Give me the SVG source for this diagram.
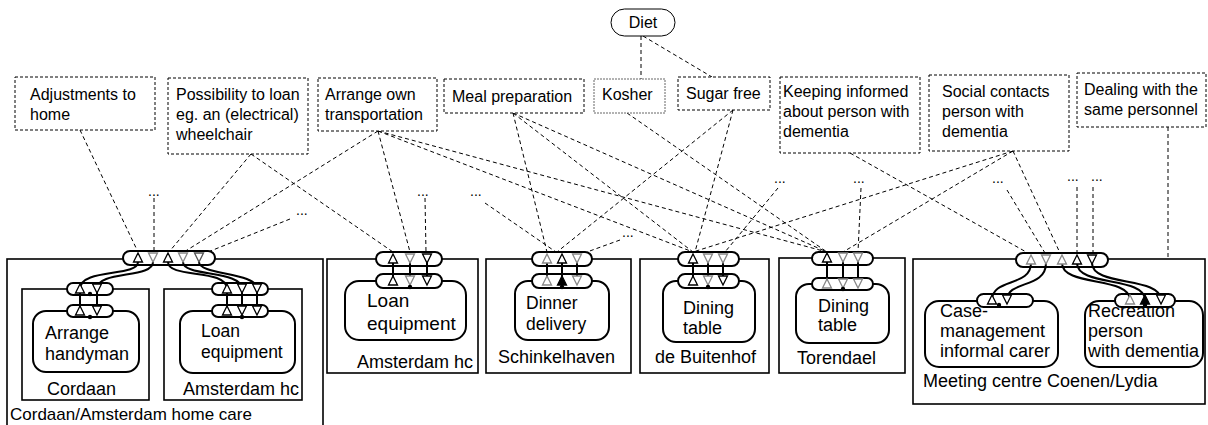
<svg xmlns="http://www.w3.org/2000/svg" xmlns:xlink="http://www.w3.org/1999/xlink" width="1208" height="425" viewBox="0 0 1208 425">
  <style>
    text { font-family: "Liberation Sans", Arial, sans-serif; fill: #000; }
    .req rect { fill: #fff; stroke: #000; stroke-width: 1; stroke-dasharray: 3 2; }
    .req text { font-size: 16px; }
    .dl { fill: none; stroke: #000; stroke-width: 1; stroke-dasharray: 4 3; }
    .dots { font-size: 14px; }
    .org { fill: none; stroke: #000; stroke-width: 1.6; }
    .svc { fill: #fff; stroke: #000; stroke-width: 2; }
    .pill { fill: #fff; stroke: #000; stroke-width: 2; }
    .lbl { font-size: 18px; }
    .wire { fill: none; stroke: #000; stroke-width: 2; }
    .k { fill: #fff; stroke: #000; stroke-width: 1.3; }
    .g { fill: #fff; stroke: #888; stroke-width: 1.3; }
    .kf { fill: #000; stroke: #000; stroke-width: 1.3; }
  </style>
  <defs>
    <path id="tu" d="M-4.5,4 L4.5,4 L0,-5 Z"/>
    <path id="td" d="M-4.5,-5 L4.5,-5 L0,4 Z"/>
  </defs>

  <!-- dashed relations between requirements and service interfaces -->
  <g id="connectors">
    <line class="dl" x1="641" y1="36" x2="641" y2="79"/>
    <line class="dl" x1="643" y1="36" x2="712" y2="77"/>
    <line class="dl" x1="80" y1="130" x2="138" y2="252"/>
    <line class="dl" x1="154" y1="198" x2="154" y2="252"/>
    <line class="dl" x1="251" y1="154" x2="169" y2="252"/>
    <line class="dl" x1="251" y1="154" x2="393" y2="252"/>
    <line class="dl" x1="378" y1="131" x2="184" y2="252"/>
    <line class="dl" x1="290" y1="219" x2="208" y2="252"/>
    <line class="dl" x1="378" y1="131" x2="410" y2="252"/>
    <line class="dl" x1="425" y1="198" x2="426" y2="252"/>
    <line class="dl" x1="485" y1="203" x2="556" y2="252"/>
    <line class="dl" x1="513" y1="113" x2="547" y2="252"/>
    <line class="dl" x1="733" y1="110" x2="557" y2="252"/>
    <line class="dl" x1="620" y1="240" x2="587" y2="252"/>
    <line class="dl" x1="378" y1="131" x2="693" y2="252"/>
    <line class="dl" x1="513" y1="113" x2="693" y2="252"/>
    <line class="dl" x1="733" y1="110" x2="695" y2="252"/>
    <line class="dl" x1="1013" y1="151" x2="693" y2="252"/>
    <line class="dl" x1="778" y1="188" x2="725" y2="252"/>
    <line class="dl" x1="378" y1="131" x2="827" y2="252"/>
    <line class="dl" x1="513" y1="113" x2="827" y2="252"/>
    <line class="dl" x1="627" y1="113" x2="827" y2="252"/>
    <line class="dl" x1="1013" y1="151" x2="843" y2="252"/>
    <line class="dl" x1="861" y1="188" x2="858" y2="252"/>
    <line class="dl" x1="850" y1="153" x2="1028" y2="253"/>
    <line class="dl" x1="1013" y1="151" x2="1060" y2="253"/>
    <line class="dl" x1="1007" y1="190" x2="1045" y2="253"/>
    <line class="dl" x1="1077" y1="187" x2="1077" y2="253"/>
    <line class="dl" x1="1093" y1="187" x2="1093" y2="253"/>
    <line class="dl" x1="1168" y1="127" x2="1168" y2="259"/>
    <text class="dots" x="148" y="196">...</text>
    <text class="dots" x="296" y="215">...</text>
    <text class="dots" x="417" y="196">...</text>
    <text class="dots" x="470" y="196">...</text>
    <text class="dots" x="622" y="237">...</text>
    <text class="dots" x="774" y="183">...</text>
    <text class="dots" x="853" y="183">...</text>
    <text class="dots" x="992" y="183">...</text>
    <text class="dots" x="1067" y="181">...</text>
    <text class="dots" x="1091" y="181">...</text>
  </g>

  <!-- requirement boxes -->
  <g id="diet">
    <rect x="611" y="9" width="64" height="27" rx="13.5" fill="#fff" stroke="#000" stroke-width="1"/>
    <text x="643" y="28" font-size="16" text-anchor="middle">Diet</text>
  </g>
  <g id="req-adjustments" class="req">
    <rect x="15" y="77" width="140" height="53"/>
    <text x="30" y="100">Adjustments to</text>
    <text x="30" y="120">home</text>
  </g>
  <g id="req-wheelchair" class="req">
    <rect x="168" y="78" width="140" height="76"/>
    <text x="176" y="100">Possibility to loan</text>
    <text x="176" y="120">eg. an (electrical)</text>
    <text x="176" y="140">wheelchair</text>
  </g>
  <g id="req-transport" class="req">
    <rect x="318" y="78" width="119" height="53"/>
    <text x="325" y="100">Arrange own</text>
    <text x="325" y="120">transportation</text>
  </g>
  <g id="req-meal" class="req">
    <rect x="444" y="79" width="140" height="34"/>
    <text x="452" y="102">Meal preparation</text>
  </g>
  <g id="req-kosher" class="req">
    <rect x="594" y="79" width="71" height="34" style="stroke:#666;stroke-dasharray:2 1"/>
    <text x="602" y="100">Kosher</text>
  </g>
  <g id="req-sugarfree" class="req">
    <rect x="678" y="77" width="92" height="33"/>
    <text x="686" y="99">Sugar free</text>
  </g>
  <g id="req-informed" class="req">
    <rect x="780" y="77" width="140" height="76"/>
    <text x="783" y="97">Keeping informed</text>
    <text x="783" y="117">about person with</text>
    <text x="783" y="137">dementia</text>
  </g>
  <g id="req-social" class="req">
    <rect x="929" y="75" width="140" height="76"/>
    <text x="942" y="97">Social contacts</text>
    <text x="942" y="117">person with</text>
    <text x="942" y="137">dementia</text>
  </g>
  <g id="req-personnel" class="req">
    <rect x="1077" y="73" width="129" height="54"/>
    <text x="1084" y="95">Dealing with the</text>
    <text x="1084" y="115">same personnel</text>
  </g>

  <!-- Cordaan / Amsterdam home care -->
  <g id="cordaan-amsterdam">
    <rect class="org" x="7" y="259" width="316" height="175"/>
    <text x="10" y="420" font-size="17">Cordaan/Amsterdam home care</text>
    <rect class="org" x="22" y="289" width="127" height="111"/>
    <text class="lbl" x="47" y="395">Cordaan</text>
    <rect class="org" x="164" y="289" width="138" height="111"/>
    <text class="lbl" x="183" y="395">Amsterdam hc</text>
    <rect class="svc" x="33" y="311" width="106" height="61" rx="13"/>
    <text class="lbl" x="45" y="339">Arrange</text>
    <text class="lbl" x="45" y="360">handyman</text>
    <rect class="svc" x="180" y="311" width="115" height="62" rx="13"/>
    <text x="201" y="337" font-size="17.5">Loan</text>
    <text x="201" y="358" font-size="17.5">equipment</text>
    <rect class="pill" x="123" y="251" width="92" height="14" rx="7"/>
    <rect class="pill" x="67" y="283" width="46" height="12" rx="6"/>
    <rect class="pill" x="67" y="305" width="46" height="12" rx="6"/>
    <rect class="pill" x="212" y="283" width="56" height="12" rx="6"/>
    <rect class="pill" x="212" y="305" width="56" height="12" rx="6"/>
    <path class="wire" d="M138,262 C138,277 80,268 80,289"/>
    <path class="wire" d="M153,262 C153,279 97,270 97,289"/>
    <path class="wire" d="M168,262 C168,279 227,268 227,289"/>
    <path class="wire" d="M183,262 C183,277 242,270 242,289"/>
    <path class="wire" d="M199,262 C199,275 257,272 257,289"/>
    <path class="wire" d="M80,289 V311 M97,289 V311 M227,289 V311 M242,289 V311 M257,289 V311"/>
    <use href="#tu" x="138" y="258" class="k"/>
    <use href="#td" x="153" y="258" class="g"/>
    <use href="#tu" x="168" y="258" class="k"/>
    <use href="#td" x="183" y="258" class="g"/>
    <use href="#td" x="199" y="258" class="g" style="stroke:#555"/>
    <use href="#tu" x="80" y="289" class="k"/>
    <use href="#td" x="97" y="289" class="k"/>
    <use href="#tu" x="80" y="311" class="k"/>
    <use href="#td" x="97" y="311" class="k"/>
    <circle cx="90" cy="294" r="2.2"/>
    <circle cx="90" cy="317" r="2.2"/>
    <use href="#tu" x="227" y="289" class="k"/>
    <use href="#td" x="242" y="289" class="k"/>
    <use href="#td" x="257" y="289" class="k"/>
    <use href="#tu" x="227" y="311" class="k"/>
    <use href="#td" x="242" y="311" class="k"/>
    <use href="#td" x="257" y="311" class="k"/>
    <circle cx="242" cy="317" r="2.2"/>
  </g>

  <!-- Amsterdam hc -->
  <g id="amsterdam-hc">
    <rect class="org" x="327" y="259" width="151" height="114"/>
    <rect class="svc" x="345" y="281" width="121" height="59" rx="14"/>
    <text x="367" y="307" font-size="19">Loan</text>
    <text x="367" y="330" font-size="19">equipment</text>
    <text class="lbl" x="357" y="368">Amsterdam hc</text>
    <rect class="pill" x="376" y="252" width="66" height="14" rx="7"/>
    <rect class="pill" x="376" y="274" width="66" height="14" rx="7"/>
    <path class="wire" d="M393,259 V281 M410,259 V281 M427,259 V281"/>
    <use href="#tu" x="393" y="259" class="k"/>
    <use href="#td" x="410" y="259" class="g"/>
    <use href="#td" x="427" y="259" class="k"/>
    <use href="#tu" x="393" y="281" class="k"/>
    <use href="#td" x="410" y="281" class="g"/>
    <use href="#td" x="427" y="281" class="k"/>
    <circle cx="410" cy="287" r="2.2"/>
  </g>

  <!-- Schinkelhaven -->
  <g id="schinkelhaven">
    <rect class="org" x="486" y="259" width="145" height="114"/>
    <rect class="svc" x="515" y="281" width="94" height="59" rx="13"/>
    <text x="526" y="309" font-size="17.5">Dinner</text>
    <text x="526" y="330" font-size="17.5">delivery</text>
    <text class="lbl" x="498" y="363">Schinkelhaven</text>
    <rect class="pill" x="532" y="252" width="60" height="14" rx="7"/>
    <rect class="pill" x="532" y="274" width="60" height="14" rx="7"/>
    <path class="wire" d="M547,259 V281 M562,259 V281 M577,259 V281"/>
    <use href="#tu" x="547" y="259" class="g"/>
    <use href="#tu" x="562" y="259" class="k"/>
    <use href="#td" x="577" y="259" class="g"/>
    <use href="#tu" x="547" y="281" class="g"/>
    <use href="#tu" x="562" y="281" class="kf"/>
    <use href="#td" x="577" y="281" class="g"/>
    <circle cx="562" cy="287" r="2.2"/>
  </g>

  <!-- de Buitenhof -->
  <g id="de-buitenhof">
    <rect class="org" x="640" y="259" width="129" height="114"/>
    <rect class="svc" x="663" y="281" width="92" height="61" rx="13"/>
    <text class="lbl" x="683" y="314">Dining</text>
    <text class="lbl" x="683" y="334">table</text>
    <text class="lbl" x="655" y="363">de Buitenhof</text>
    <rect class="pill" x="678" y="252" width="61" height="14" rx="7"/>
    <rect class="pill" x="678" y="274" width="61" height="14" rx="7"/>
    <path class="wire" d="M693,259 V281 M708,259 V281 M723,259 V281"/>
    <use href="#tu" x="693" y="259" class="k"/>
    <use href="#td" x="708" y="259" class="g"/>
    <use href="#td" x="723" y="259" class="g"/>
    <use href="#tu" x="693" y="281" class="k"/>
    <use href="#td" x="708" y="281" class="g"/>
    <use href="#td" x="723" y="281" class="k"/>
    <circle cx="708" cy="287" r="2.2"/>
  </g>

  <!-- Torendael -->
  <g id="torendael">
    <rect class="org" x="779" y="258" width="126" height="115"/>
    <rect class="svc" x="796" y="284" width="93" height="59" rx="13"/>
    <text class="lbl" x="818" y="312">Dining</text>
    <text class="lbl" x="818" y="331">table</text>
    <text class="lbl" x="797" y="364">Torendael</text>
    <rect class="pill" x="812" y="252" width="61" height="13" rx="6.5"/>
    <rect class="pill" x="812" y="278" width="61" height="12" rx="6"/>
    <path class="wire" d="M827,258 V284 M843,258 V284 M858,258 V284"/>
    <use href="#tu" x="827" y="258" class="k"/>
    <use href="#td" x="843" y="258" class="g"/>
    <use href="#td" x="858" y="258" class="g"/>
    <use href="#tu" x="827" y="284" class="g"/>
    <use href="#td" x="843" y="284" class="g"/>
    <use href="#td" x="858" y="284" class="g"/>
    <circle cx="843" cy="289" r="2.2"/>
  </g>

  <!-- Meeting centre Coenen/Lydia -->
  <g id="meeting-centre">
    <rect class="org" x="913" y="259" width="292" height="145"/>
    <text class="lbl" x="923" y="387">Meeting centre Coenen/Lydia</text>
    <rect class="svc" x="925" y="301" width="133" height="66" rx="14"/>
    <text class="lbl" x="940" y="317">Case-</text>
    <text class="lbl" x="940" y="337">management</text>
    <text class="lbl" x="940" y="357">informal carer</text>
    <rect class="svc" x="1085" y="301" width="118" height="66" rx="14"/>
    <text class="lbl" x="1088" y="317">Recreation</text>
    <text class="lbl" x="1088" y="337">person</text>
    <text class="lbl" x="1088" y="357">with dementia</text>
    <rect class="pill" x="1016" y="253" width="92" height="14" rx="7"/>
    <rect class="pill" x="977" y="294" width="56" height="13" rx="6.5"/>
    <rect class="pill" x="1115" y="294" width="60" height="13" rx="6.5"/>
    <path class="wire" d="M1031,263 C1031,287 992,278 992,300"/>
    <path class="wire" d="M1046,263 C1046,289 1007,280 1007,300"/>
    <path class="wire" d="M1062,263 C1062,287 1130,276 1130,300"/>
    <path class="wire" d="M1077,263 C1077,287 1145,276 1145,300"/>
    <path class="wire" d="M1092,263 C1092,287 1161,276 1161,300"/>
    <use href="#tu" x="1031" y="260" class="g"/>
    <use href="#td" x="1046" y="260" class="g"/>
    <use href="#tu" x="1062" y="260" class="g"/>
    <use href="#tu" x="1077" y="260" class="k"/>
    <use href="#td" x="1092" y="260" class="k"/>
    <use href="#tu" x="992" y="300" class="k"/>
    <use href="#td" x="1007" y="300" class="k"/>
    <circle cx="999" cy="305" r="2.2"/>
    <use href="#tu" x="1130" y="300" class="g"/>
    <use href="#tu" x="1145" y="300" class="kf"/>
    <use href="#td" x="1161" y="300" class="k"/>
    <circle cx="1145" cy="305" r="2.2"/>
  </g>
</svg>
